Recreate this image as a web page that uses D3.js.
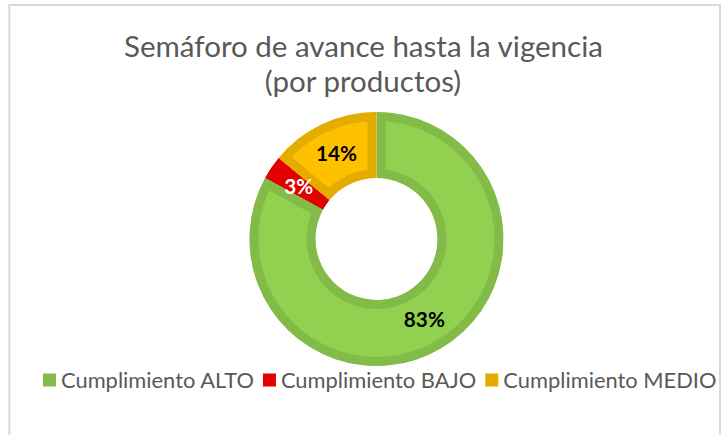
<!DOCTYPE html>
<html lang="es">
<head>
  <meta charset="UTF-8" />
  <title>Semáforo de avance hasta la vigencia</title>
  <script src="https://d3js.org/d3.v7.min.js"></script>
  <style>
    body { margin: 0; background: #fff; }
    svg { display: block; font-family: Lato, "Open Sans", sans-serif; }
  </style>
</head>
<body>
  <svg id="chart" width="726" height="435"></svg>

  <script>
    // data
    const categories = ["Cumplimiento ALTO", "Cumplimiento BAJO", "Cumplimiento MEDIO"];
    const values = [83, 3, 14];
    const labels = ["83%", "3%", "14%"];
    const titleLines = ["Semáforo de avance hasta la vigencia", "(por productos)"];

    const fills = ["#92D050", "#E20000", "#FFC000"];
    const strokes = ["#82BB48", "#E20000", "#E5AC00"];
    const labelColors = ["#000", "#fff", "#000"];

    const svg = d3.select("#chart");

    // chart area border
    svg.append("rect")
      .attr("x", 9.3).attr("y", 5)
      .attr("width", 710.7).attr("height", 440)
      .attr("fill", "#fff")
      .attr("stroke", "#D9D9D9")
      .attr("stroke-width", 2);

    // size a text so its width matches what the reference shows
    function fit(sel, target) {
      sel.attr("font-size", 100);
      const w = sel.node().getComputedTextLength();
      const size = 100 * target / w;
      sel.attr("font-size", size);
      return size;
    }

    // Title
    const t1 = svg.append("text")
      .attr("x", 363.5).attr("y", 57)
      .attr("text-anchor", "middle")
      .attr("fill", "#595959")
      .text(titleLines[0]);
    const titleSize = fit(t1, 479);
    svg.append("text")
      .attr("x", 363).attr("y", 92)
      .attr("text-anchor", "middle")
      .attr("fill", "#595959")
      .attr("font-size", titleSize)
      .text(titleLines[1]);

    // Donut
    const cx = 376.5, cy = 239, R = 127, r = 61;
    const g = svg.append("g").attr("transform", `translate(${cx},${cy})`);

    const pie = d3.pie().sort(null).value(d => d)(values);
    const arc = d3.arc().innerRadius(r).outerRadius(R);
    const labelArc = d3.arc().innerRadius((R + r) / 2).outerRadius((R + r) / 2);

    const defs = svg.append("defs");
    pie.forEach((p, i) => {
      defs.append("clipPath").attr("id", "clip" + i)
        .append("path").attr("d", arc(p));
    });

    // border drawn inside each slice (clipped to the slice itself)
    g.selectAll("path.slice")
      .data(pie)
      .enter().append("path")
        .attr("class", "slice")
        .attr("d", arc)
        .attr("fill", (d, i) => fills[i])
        .attr("stroke", (d, i) => strokes[i])
        .attr("stroke-width", 18)
        .attr("clip-path", (d, i) => `url(#clip${i})`);

    // Data labels
    const lbls = g.selectAll("text.lbl")
      .data(pie)
      .enter().append("text")
        .attr("class", "lbl")
        .attr("transform", d => `translate(${labelArc.centroid(d)})`)
        .attr("text-anchor", "middle")
        .attr("dy", "0.36em")
        .attr("font-weight", "bold")
        .attr("fill", (d, i) => labelColors[i])
        .text((d, i) => labels[i]);
    const lblSize = fit(d3.select(lbls.nodes()[0]), 41);
    lbls.attr("font-size", lblSize);

    // Legend
    const legend = svg.append("g").attr("transform", "translate(0,380)");
    const probe = legend.append("text").text(categories[0]);
    const legSize = fit(probe, 193);
    probe.remove();

    let x = 43;
    categories.forEach((c, i) => {
      legend.append("rect")
        .attr("x", x).attr("y", -6.5)
        .attr("width", 13).attr("height", 13)
        .attr("fill", strokes[i]);
      const t = legend.append("text")
        .attr("x", x + 18).attr("y", 0)
        .attr("dy", "0.35em")
        .attr("font-size", legSize)
        .attr("fill", "#595959")
        .text(c);
      x += 18 + t.node().getComputedTextLength() + 9;
    });
  </script>
</body>
</html>
